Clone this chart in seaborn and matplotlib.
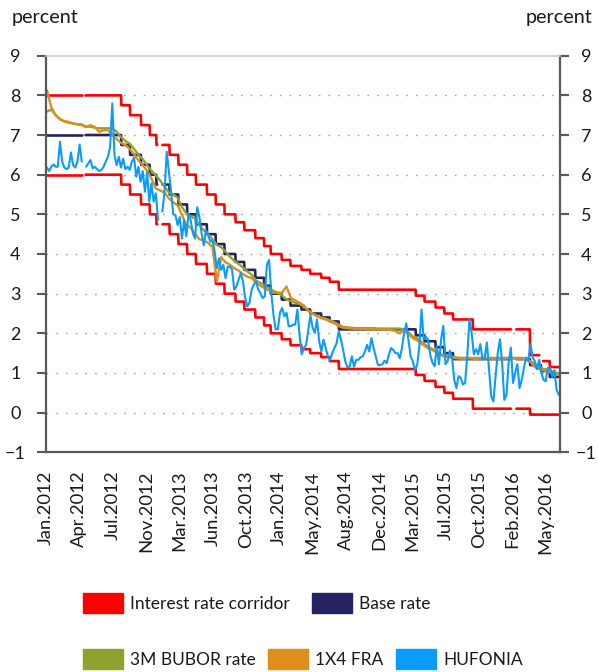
import numpy as np
import pandas as pd
import matplotlib
matplotlib.use("Agg")
import matplotlib.pyplot as plt
import seaborn as sns
from matplotlib.patches import Patch

# ---- policy rates (change dates) ----
rate_dates = ["2012-01-02", "2012-08-29", "2012-09-26", "2012-10-31", "2012-11-28",
              "2012-12-19", "2013-01-30", "2013-02-27", "2013-03-27", "2013-04-24",
              "2013-05-29", "2013-06-26", "2013-07-24", "2013-08-28", "2013-09-25",
              "2013-10-30", "2013-11-27", "2013-12-18", "2014-01-22", "2014-02-19",
              "2014-03-26", "2014-04-23", "2014-05-28", "2014-06-24", "2014-07-23",
              "2015-03-25", "2015-04-22", "2015-05-27", "2015-06-24", "2015-07-22",
              "2015-09-23", "2016-03-23", "2016-04-27", "2016-05-25"]
base_rate = [7.00, 6.75, 6.50, 6.25, 6.00, 5.75, 5.50, 5.25, 5.00, 4.75,
             4.50, 4.25, 4.00, 3.80, 3.60, 3.40, 3.20, 3.00, 2.85, 2.70,
             2.60, 2.50, 2.40, 2.30, 2.10, 1.95, 1.80, 1.65, 1.50, 1.35,
             1.35, 1.20, 1.05, 0.90]
corridor_upper = [8.00, 7.75, 7.50, 7.25, 7.00, 6.75, 6.50, 6.25, 6.00, 5.75,
                  5.50, 5.25, 5.00, 4.80, 4.60, 4.40, 4.20, 4.00, 3.85, 3.70,
                  3.60, 3.50, 3.40, 3.30, 3.10, 2.95, 2.80, 2.65, 2.50, 2.35,
                  2.10, 1.45, 1.30, 1.15]
corridor_lower = [6.00, 5.75, 5.50, 5.25, 5.00, 4.75, 4.50, 4.25, 4.00, 3.75,
                  3.50, 3.25, 3.00, 2.80, 2.60, 2.40, 2.20, 2.00, 1.85, 1.70,
                  1.60, 1.50, 1.40, 1.30, 1.10, 0.95, 0.80, 0.65, 0.50, 0.35,
                  0.10, -0.05, -0.05, -0.05]
# periods with missing data
gaps_all = [("2012-04-30", "2012-05-04"), ("2012-12-24", "2013-01-04"),
            ("2016-01-25", "2016-02-05")]
gaps_upper = [("2016-04-22", "2016-05-02")]

# ---- market rates ----
# 3M BUBOR and 1x4 FRA, roughly every two weeks
bubor = [7.59, 7.64, 7.50, 7.40, 7.34, 7.31, 7.29, 7.27, 7.27, 7.21,
         7.21, 7.18, 7.17, 7.17, 7.17, 7.17, 7.08, 6.95, 6.85, 6.78,
         6.65, 6.50, 6.39, 6.24, 6.10, 5.98, 5.85, 5.70, 5.55, 5.50,
         5.42, 5.18, 5.02, 4.95, 4.89, 4.73, 4.60, 4.50, 4.37, 4.23,
         4.17, 4.06, 3.93, 3.83, 3.75, 3.66, 3.56, 3.48, 3.33, 3.27,
         3.21, 3.14, 3.07, 3.02, 2.95, 2.85, 2.81, 2.77, 2.74, 2.68,
         2.58, 2.50, 2.44, 2.40, 2.37, 2.33, 2.28, 2.22, 2.16, 2.15,
         2.14, 2.13, 2.13, 2.13, 2.13, 2.13, 2.12, 2.12, 2.12, 2.12,
         2.12, 2.12, 2.10, 2.02, 1.92, 1.87, 1.78, 1.70, 1.63, 1.58,
         1.50, 1.45, 1.42, 1.41, 1.39, 1.38, 1.38, 1.38, 1.38, 1.38,
         1.38, 1.38, 1.38, 1.38, 1.38, 1.38, 1.38, 1.38, 1.38, 1.38,
         1.36, 1.30, 1.22, 1.15, 1.10, 1.08, 1.04, 1.00, 0.99]
fra = [8.13, 7.70, 7.50, 7.40, 7.35, 7.33, 7.29, 7.27, 7.25, 7.20,
       7.25, 7.20, 7.08, 7.12, 7.13, 7.00, 6.90, 6.80, 6.75, 6.65,
       6.52, 6.36, 6.24, 6.10, 5.90, 5.65, 5.60, 5.55, 5.40, 5.30,
       5.23, 4.98, 4.73, 4.66, 4.52, 4.37, 4.35, 4.28, 4.18, 3.30,
       3.92, 3.79, 3.73, 3.64, 3.58, 3.49, 3.43, 3.39, 3.28, 3.20,
       3.13, 3.08, 3.02, 3.02, 3.03, 3.18, 2.89, 2.83, 2.77, 2.70,
       2.56, 2.49, 2.43, 2.38, 2.35, 2.30, 2.25, 2.18, 2.14, 2.13,
       2.12, 2.11, 2.11, 2.10, 2.10, 2.10, 2.10, 2.09, 2.10, 2.08,
       2.06, 2.00, 2.08, 1.98, 1.88, 1.82, 1.74, 1.66, 1.60, 1.55,
       1.47, 1.42, 1.40, 1.38, 1.37, 1.36, 1.36, 1.37, 1.36, 1.36,
       1.36, 1.37, 1.36, 1.36, 1.36, 1.36, 1.37, 1.36, 1.36, 1.36,
       1.34, 1.28, 1.15, 1.10, 1.07, 1.03, 1.00, 0.96, 0.95]
# HUFONIA, roughly weekly
hufonia = [6.18, 6.09, 6.20, 6.26, 6.20, 6.20, 6.83, 6.33, 6.18, 6.14,
           6.18, 6.56, 6.24, 6.18, 6.33, 6.76, 6.33, np.nan, 6.20, 6.29,
           6.37, 6.16, 6.20, 6.14, 6.09, 6.12, 6.20, 6.33, 6.45, 6.70,
           7.80, 6.50, 6.24, 6.45, 6.18, 6.40, 6.14, 6.20, 6.12, 6.33,
           6.43, 5.95, 6.20, 5.82, 6.09, 5.57, 6.06, 5.32, 5.78, 5.32,
           5.53, 4.86, np.nan, 5.07, 5.57, 6.58, 6.08, 5.57, 5.00, 4.98,
           4.73, 4.93, 4.39, 4.85, 4.45, 5.02, 4.85, 4.52, 4.39, 5.18,
           4.93, 4.52, 4.22, 4.60, 4.48, 4.31, 4.35, 4.06, 3.64, 3.89,
           3.60, 3.73, 3.39, 3.68, 3.68, 3.60, 3.10, 3.18, 3.35, 3.52,
           3.31, 2.89, 2.68, 2.77, 3.10, 3.23, 3.31, 3.10, 3.02, 2.89,
           2.93, 3.73, 3.85, 3.02, 2.47, 2.10, 2.10, 2.52, 2.64, 2.43,
           2.52, 2.18, 2.18, 2.22, 2.22, 2.60, 1.95, 1.47, 1.63, 1.71,
           2.09, 2.45, 2.14, 2.01, 2.35, 1.80, 1.54, 1.84, 1.63, 1.42,
           1.33, 1.50, 1.63, 1.75, 2.05, 1.84, 1.58, 1.29, 1.14, 1.16,
           1.42, 1.16, 1.33, 1.33, 1.40, 1.42, 1.54, 1.71, 1.54, 1.88,
           1.63, 1.42, 1.20, 1.20, 1.22, 1.31, 1.25, 1.46, 1.63, 1.58,
           1.50, 1.50, 1.37, 1.63, 2.01, 2.25, 1.82, 1.42, 1.29, 1.08,
           1.20, 1.67, 2.60, 1.84, 1.91, 1.84, 1.45, 1.26, 1.17, 1.68,
           1.22, 1.85, 2.19, 1.22, 1.30, 1.56, 1.39, 0.83, 0.62, 0.92,
           0.88, 0.71, 0.75, 1.43, 2.35, 2.02, 1.47, 1.60, 1.47, 1.73,
           1.34, 1.39, 1.77, 1.09, 0.41, 0.28, 0.92, 1.51, 1.85, 1.26,
           0.32, 0.45, 1.26, 1.64, 0.75, 1.00, 1.22, 0.62, 0.83, 1.13,
           1.39, 1.30, 1.73, 1.39, 1.30, 1.09, 1.33, 1.00, 0.83, 0.79,
           1.13, 1.13, 0.90, 1.07, 0.58, 0.45]

tick_labels = ["Jan.2012", "Apr.2012", "Jul.2012", "Nov.2012", "Mar.2013", "Jun.2013",
               "Oct.2013", "Jan.2014", "May.2014", "Aug.2014", "Dec.2014", "Mar.2015",
               "Jul.2015", "Oct.2015", "Feb.2016", "May.2016"]

start, end = pd.Timestamp("2012-01-02"), pd.Timestamp("2016-06-26")
bdays = pd.bdate_range(start, end)
bubor_dates = pd.date_range("2012-01-05", "2016-06-29", periods=len(bubor))
huf_dates = pd.date_range("2012-01-05", "2016-06-22", periods=len(hufonia))


def step_series(values, gaps):
    s = pd.Series(values, index=pd.to_datetime(rate_dates)).reindex(bdays, method="ffill")
    for a, b in gaps:
        s[a:b] = np.nan
    return s


def draw(ax, dates, values, color, lw):
    df = pd.DataFrame({"date": dates, "value": np.asarray(values, dtype=float)})
    df["seg"] = df["value"].isna().cumsum()
    sns.lineplot(data=df.dropna(), x="date", y="value", units="seg", estimator=None,
                 color=color, linewidth=lw, ax=ax, legend=False)


sns.set_theme(style="white")
plt.rcParams["font.family"] = ["Lato", "DejaVu Sans"]

RED, NAVY, GREEN, ORANGE, BLUE = "#ff0000", "#262262", "#8da32e", "#df8e1e", "#0a9bff"
TXT = "#1a1a1a"
AXC = "#595959"

fig = plt.figure(figsize=(5.98, 6.72), dpi=100)
ax = fig.add_axes([46 / 598, 1 - 452.3 / 672, 514 / 598, (452.3 - 55.7) / 672])

draw(ax, bdays, step_series(corridor_upper, gaps_all + gaps_upper), RED, 1.9)
draw(ax, bdays, step_series(corridor_lower, gaps_all), RED, 1.9)
draw(ax, bdays, step_series(base_rate, gaps_all), NAVY, 1.9)
draw(ax, bubor_dates, bubor, GREEN, 1.7)
draw(ax, bubor_dates, fra, ORANGE, 1.7)
draw(ax, huf_dates, hufonia, BLUE, 1.5)

ax.set_xlim(start, end)
ax.set_ylim(-1, 9)
ax.set_yticks(range(-1, 10))
for v in range(0, 9):
    ax.axhline(v, color="#a6a6a6", lw=1.0, ls=(0, (1.2, 5.8)), zorder=0)

ax.set_xticks(pd.date_range(start, periods=len(tick_labels), freq="106D"))
ax.set_xticklabels(tick_labels, rotation=90)
ax.set_xlabel("")
ax.set_ylabel("")

for side in ["left", "right", "bottom"]:
    ax.spines[side].set_color(AXC)
    ax.spines[side].set_linewidth(1.6)
ax.spines["top"].set_color("#c8c8c8")
ax.spines["top"].set_linewidth(1.2)

# left axis labels (centred, as in the original)
ax.tick_params(axis="y", left=True, right=True, labelleft=True, labelright=False,
               direction="out", length=6.5, width=1.5, color=AXC,
               labelsize=13, pad=15.5, labelcolor=TXT)
for t in ax.get_yticklabels():
    t.set_horizontalalignment("center")
ax.tick_params(axis="x", bottom=False, labelsize=13.3, pad=7, labelcolor=TXT)

# right axis labels
ax_r = ax.secondary_yaxis("right")
ax_r.set_yticks(range(-1, 10))
ax_r.spines["right"].set_visible(False)
ax_r.tick_params(axis="y", direction="out", length=6.5, width=1.5, color=AXC,
                 labelsize=13, pad=12.5, labelcolor=TXT)
for t in ax_r.get_yticklabels():
    t.set_horizontalalignment("center")

fig.text(12 / 598, 1 - 18 / 672, "percent", fontsize=14.2, va="center", ha="left", color=TXT)
fig.text(592 / 598, 1 - 18 / 672, "percent", fontsize=14.2, va="center", ha="right", color=TXT)

row1 = [Patch(color=RED, label="Interest rate corridor"), Patch(color=NAVY, label="Base rate")]
row2 = [Patch(color=GREEN, label="3M BUBOR rate"), Patch(color=ORANGE, label="1X4 FRA"),
        Patch(color=BLUE, label="HUFONIA")]
leg_kw = dict(frameon=False, fontsize=12.5, handlelength=2.3, handleheight=1.32,
              handletextpad=0.42, borderpad=0, borderaxespad=0,
              loc="center left", labelcolor=TXT)
fig.legend(handles=row1, ncol=2, columnspacing=1.25,
           bbox_to_anchor=(83 / 598, 1 - 603 / 672), **leg_kw)
fig.legend(handles=row2, ncol=3, columnspacing=0.7,
           bbox_to_anchor=(83 / 598, 1 - 659 / 672), **leg_kw)

fig.savefig("out.png", dpi=100)
